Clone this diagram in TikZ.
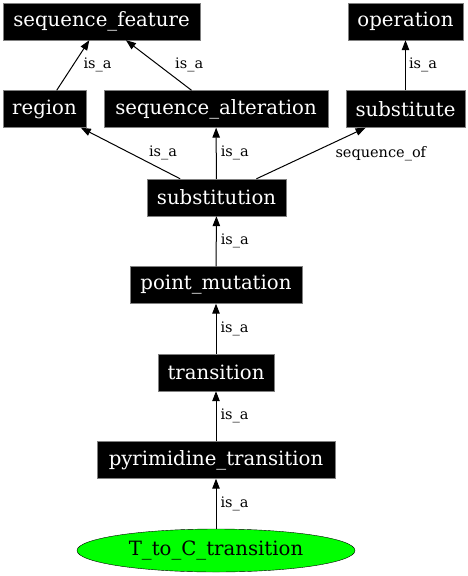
\documentclass[tikz,border=0pt]{standalone}
\usepackage{fontspec}
\setmainfont{DejaVu Serif}
\usetikzlibrary{arrows.meta,shapes.geometric}
\definecolor{nodegreen}{RGB}{0,255,0}
\tikzset{
  term/.style={fill=black,draw=gray,text=white,font=\fontsize{19.7}{21}\selectfont,minimum height=37pt,inner sep=2pt},
  leaf/.style={ellipse,fill=nodegreen,draw=black,font=\fontsize{19.7}{21}\selectfont,minimum width=278pt,minimum height=43pt,inner sep=1pt},
  rel/.style={draw=black,line width=1pt,-{Triangle[length=10pt,width=7.5pt]}},
  lbl/.style={font=\fontsize{14.5}{15}\selectfont,inner sep=2pt}
}
\begin{document}
\begin{tikzpicture}[x=1pt,y=1pt]
  \useasboundingbox (0,0) rectangle (468,-576);
  \node[term,minimum width=197pt] (seqfeat) at (101.5,-21.5) {sequence\_feature};
  \node[term,minimum width=115pt] (operation) at (405.5,-21.5) {operation};
  \node[term,minimum width=83pt] (region) at (44.5,-109) {region};
  \node[term,minimum width=224pt] (seqalt) at (216,-109) {sequence\_alteration};
  \node[term,minimum width=119pt] (substitute) at (405.5,-109) {substitute};
  \node[term,minimum width=139pt] (substitution) at (216.5,-197.5) {substitution};
  \node[term,minimum width=172pt] (pointmut) at (216,-285) {point\_mutation};
  \node[term,minimum width=116pt] (transition) at (216,-372.5) {transition};
  \node[term,minimum width=238pt] (pyrtrans) at (216,-460) {pyrimidine\_transition};
  \node[leaf] (ttoc) at (216,-550.5) {T\_to\_C\_transition};

  \draw[rel] (region) -- (seqfeat) node[lbl,pos=0.5,right,xshift=8pt]{is\_a};
  \draw[rel] (seqalt) -- (seqfeat) node[lbl,pos=0.5,right,xshift=14pt]{is\_a};
  \draw[rel] (substitute) -- (operation) node[lbl,pos=0.5,right,xshift=1pt]{is\_a};
  \draw[rel] (substitution) -- (region) node[lbl,pos=0.5,right,xshift=16pt]{is\_a};
  \draw[rel] (substitution) -- (seqalt) node[lbl,pos=0.5,right,xshift=2pt]{is\_a};
  \draw[rel] (substitution) -- (substitute) node[lbl,pos=0.5,right,xshift=22pt]{sequence\_of};
  \draw[rel] (pointmut) -- (substitution) node[lbl,pos=0.5,right,xshift=2pt]{is\_a};
  \draw[rel] (transition) -- (pointmut) node[lbl,pos=0.5,right,xshift=2pt]{is\_a};
  \draw[rel] (pyrtrans) -- (transition) node[lbl,pos=0.5,right,xshift=2pt]{is\_a};
  \draw[rel] (ttoc) -- (pyrtrans) node[lbl,pos=0.5,right,xshift=2pt]{is\_a};
\end{tikzpicture}
\end{document}
